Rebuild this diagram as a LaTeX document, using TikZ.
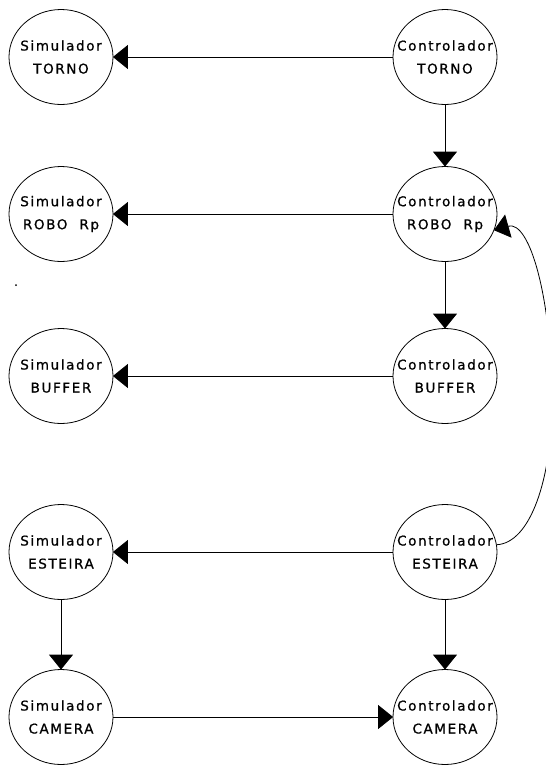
\documentclass[tikz,border=0pt]{standalone}
\usepackage{fontspec}
\newfontfamily\plotfont[LetterSpace=12,FakeBold=0.8]{DejaVu Sans}
\usetikzlibrary{shapes.geometric,arrows.meta}
\tikzset{
  txt/.style={inner sep=0pt, align=center, font=\plotfont\fontsize{13.5}{23}\selectfont},
  proc/.style={draw, ellipse, line width=0.8pt, minimum width=104pt, minimum height=95pt,
    inner sep=0pt, label={[txt]center:#1}},
  flow/.style={line width=0.8pt, -{Triangle[length=15pt,width=24pt]}, shorten >=-0.5pt}
}
\begin{document}
\begin{tikzpicture}[x=1pt,y=-1pt]
\useasboundingbox (0,0) rectangle (546,780);
% left column
\node[proc={Simulador\\TORNO}] (sT) at (61,57) {};
\node[proc={Simulador\\ROBO\hspace{12pt}Rp}] (sR) at (61,214) {};
\node[proc={Simulador\\BUFFER}] (sB) at (61,376) {};
\node[proc={Simulador\\ESTEIRA}] (sE) at (61,552) {};
\node[proc={Simulador\\CAMERA}] (sC) at (61,717) {};
% right column
\node[proc={Controlador\\TORNO}] (cT) at (445,57) {};
\node[proc={Controlador\\ROBO\hspace{12pt}Rp}] (cR) at (445,214) {};
\node[proc={Controlador\\BUFFER}] (cB) at (445,376) {};
\node[proc={Controlador\\ESTEIRA}] (cE) at (445,552) {};
\node[proc={Controlador\\CAMERA}] (cC) at (445,717) {};
% horizontal connectors
\draw[flow] (cT) -- (sT);
\draw[flow] (cR) -- (sR);
\draw[flow] (cB) -- (sB);
\draw[flow] (cE) -- (sE);
\draw[flow] (sC) -- (cC);
% vertical connectors
\draw[flow] (cT) -- (cR);
\draw[flow] (cR) -- (cB);
\draw[flow] (cE) -- (cC);
\draw[flow] (sE) -- (sC);
% feedback curve
\coordinate (k) at (552,400);
\draw[line width=0.8pt] (cE.8) .. controls (530,543) and (552,480) .. (k);
\draw[flow] (k) .. controls (552,300) and (530,220) .. (cR.-18);
% stray dot
\fill (16,285) circle (1pt);
\end{tikzpicture}
\end{document}
